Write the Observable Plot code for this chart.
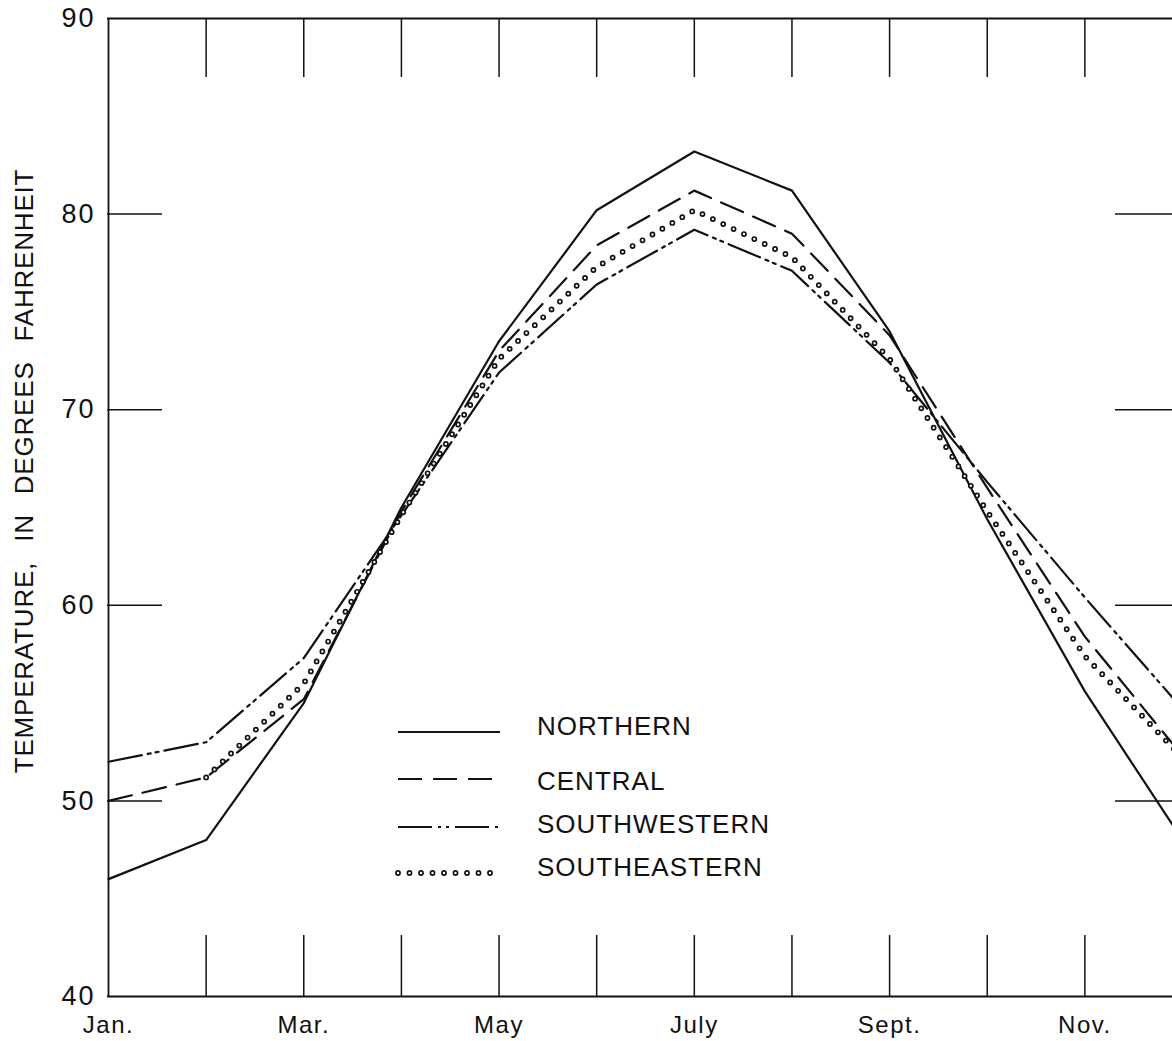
<!DOCTYPE html>
<html><head><meta charset="utf-8">
<script src="https://cdn.jsdelivr.net/npm/d3@7"></script>
<script src="https://cdn.jsdelivr.net/npm/@observablehq/plot@0.6"></script>
<style>
html,body{margin:0;padding:0;background:#fff;overflow:hidden;}
#chart{position:relative;width:1172px;height:1041px;}
</style></head><body><div id="chart"></div>
<script>
// ---- data ----
const months = ["Jan","Feb","Mar","Apr","May","Jun","Jul","Aug","Sep","Oct","Nov","Dec"];
const monthLabels = ["Jan.","","Mar.","","May","","July","","Sept.","","Nov.",""];
const yTicks = [40,50,60,70,80,90];
const regions = ["NORTHERN","CENTRAL","SOUTHWESTERN","SOUTHEASTERN"];
const northern     = [46.0,48.0,55.0,65.0,73.5,80.2,83.2,81.2,74.0,64.4,55.6,48.0];
const central      = [50.0,51.2,55.2,64.8,73.0,78.4,81.2,79.0,73.8,66.0,58.4,52.3];
const southwestern = [52.0,53.0,57.3,64.6,71.9,76.4,79.2,77.1,72.4,66.3,60.4,54.7];
// January coincides with the central curve and is not drawn separately in the original
const southeastern = [null,51.2,56.0,64.6,72.6,77.3,80.2,77.8,72.6,64.8,57.4,52.2];
const yTitle = "TEMPERATURE, IN DEGREES FAHRENHEIT";

// ---- styles ----
const W = 1172, H = 1041;
const mL = 107, mT = 18, mB = 45;
const ink = "#111";
const sans = "'Liberation Sans',Arial,sans-serif";
const styleOf = {
  NORTHERN:     [{stroke: ink, strokeWidth: 2.2}],
  CENTRAL:      [{stroke: ink, strokeWidth: 2.2, strokeDasharray: "24,11"}],
  SOUTHWESTERN: [{stroke: ink, strokeWidth: 2.2, strokeDasharray: "34,6,3,5,3,6"}],
  SOUTHEASTERN: [{stroke: ink, strokeWidth: 5.8, strokeDasharray: "0,11.5", strokeLinecap: "round"},
                 {stroke: "#fff", strokeWidth: 2.4, strokeDasharray: "0,11.5", strokeLinecap: "round"}]
};
const seriesVals = {NORTHERN: northern, CENTRAL: central, SOUTHWESTERN: southwestern, SOUTHEASTERN: southeastern};
const rowsOf = name => seriesVals[name].map((v, i) => ({region: name, month: i, temp: v}));

const innerMonths = months.map((_, i) => i).filter(i => i > 0 && i < months.length - 1);
const innerY = yTicks.slice(1, -1);

const lineMarks = [];
for (const r of regions) {
  for (const s of styleOf[r]) {
    lineMarks.push(Plot.line(rowsOf(r), {x: "month", y: "temp", strokeLinejoin: "round", ...s}));
  }
}

const plot = Plot.plot({
  width: W, height: H,
  marginLeft: mL, marginTop: mT, marginBottom: mB, marginRight: 0,
  style: {fontFamily: sans, background: "#fff", color: ink},
  x: {domain: [0, months.length - 1], range: [108, 1182]},
  y: {domain: [40, 90], range: [996, 18]},
  marks: [
    // frame
    Plot.ruleY([40, 90], {stroke: ink, strokeWidth: 1.8}),
    Plot.ruleX([0, months.length - 1], {stroke: ink, strokeWidth: 1.8}),
    // inward ticks
    Plot.ruleY(innerY, {stroke: ink, strokeWidth: 1.5, insetRight: W - 162}),
    Plot.ruleY(innerY, {stroke: ink, strokeWidth: 1.5, insetLeft: 1115 - mL}),
    Plot.ruleX(innerMonths, {stroke: ink, strokeWidth: 1.5, insetBottom: (996 - 18) - 59}),
    Plot.ruleX(innerMonths, {stroke: ink, strokeWidth: 1.5, insetTop: (996 - 18) - 61}),
    ...lineMarks,
    Plot.axisY({ticks: yTicks, tickSize: 0, tickPadding: 12, fontSize: 27, label: null,
                tickFormat: d => String(d)}),
    Plot.axisX({ticks: months.map((_, i) => i).filter(i => monthLabels[i]), tickSize: 0, tickPadding: 19,
                fontSize: 24, label: null, tickFormat: i => monthLabels[i]})
  ]
});
document.getElementById("chart").appendChild(plot);

const svg = d3.select(plot);
svg.selectAll('g[aria-label="y-axis tick label"] text')
  .style("letter-spacing", "2px");
svg.selectAll('g[aria-label="x-axis tick label"] text')
  .style("letter-spacing", "1.5px");

// y-axis title
svg.append("text")
  .attr("transform", "translate(24,471) rotate(-90)")
  .attr("text-anchor", "middle")
  .attr("dy", "0.36em")
  .attr("fill", ink)
  .style("font-family", sans)
  .style("font-size", "26px")
  .style("letter-spacing", "0.8px")
  .style("word-spacing", "12px")
  .text(yTitle);

// legend
const legendLineY = [732, 779, 827, 873];
const legendTextY = [726, 781, 824, 867];
const lg = svg.append("g").attr("aria-label", "legend");
regions.forEach((r, i) => {
  for (const s of styleOf[r]) {
    lg.append("line")
      .attr("x1", 398).attr("x2", 500)
      .attr("y1", legendLineY[i]).attr("y2", legendLineY[i])
      .attr("stroke", s.stroke).attr("stroke-width", s.strokeWidth)
      .attr("stroke-dasharray", s.strokeDasharray || null)
      .attr("stroke-linecap", s.strokeLinecap || null);
  }
  lg.append("text")
    .attr("x", 537).attr("y", legendTextY[i]).attr("dy", "0.36em")
    .attr("text-anchor", "start")
    .attr("fill", ink)
    .style("font-family", sans)
    .style("font-size", "26px")
    .style("letter-spacing", "1px")
    .text(r);
});
</script></body></html>
